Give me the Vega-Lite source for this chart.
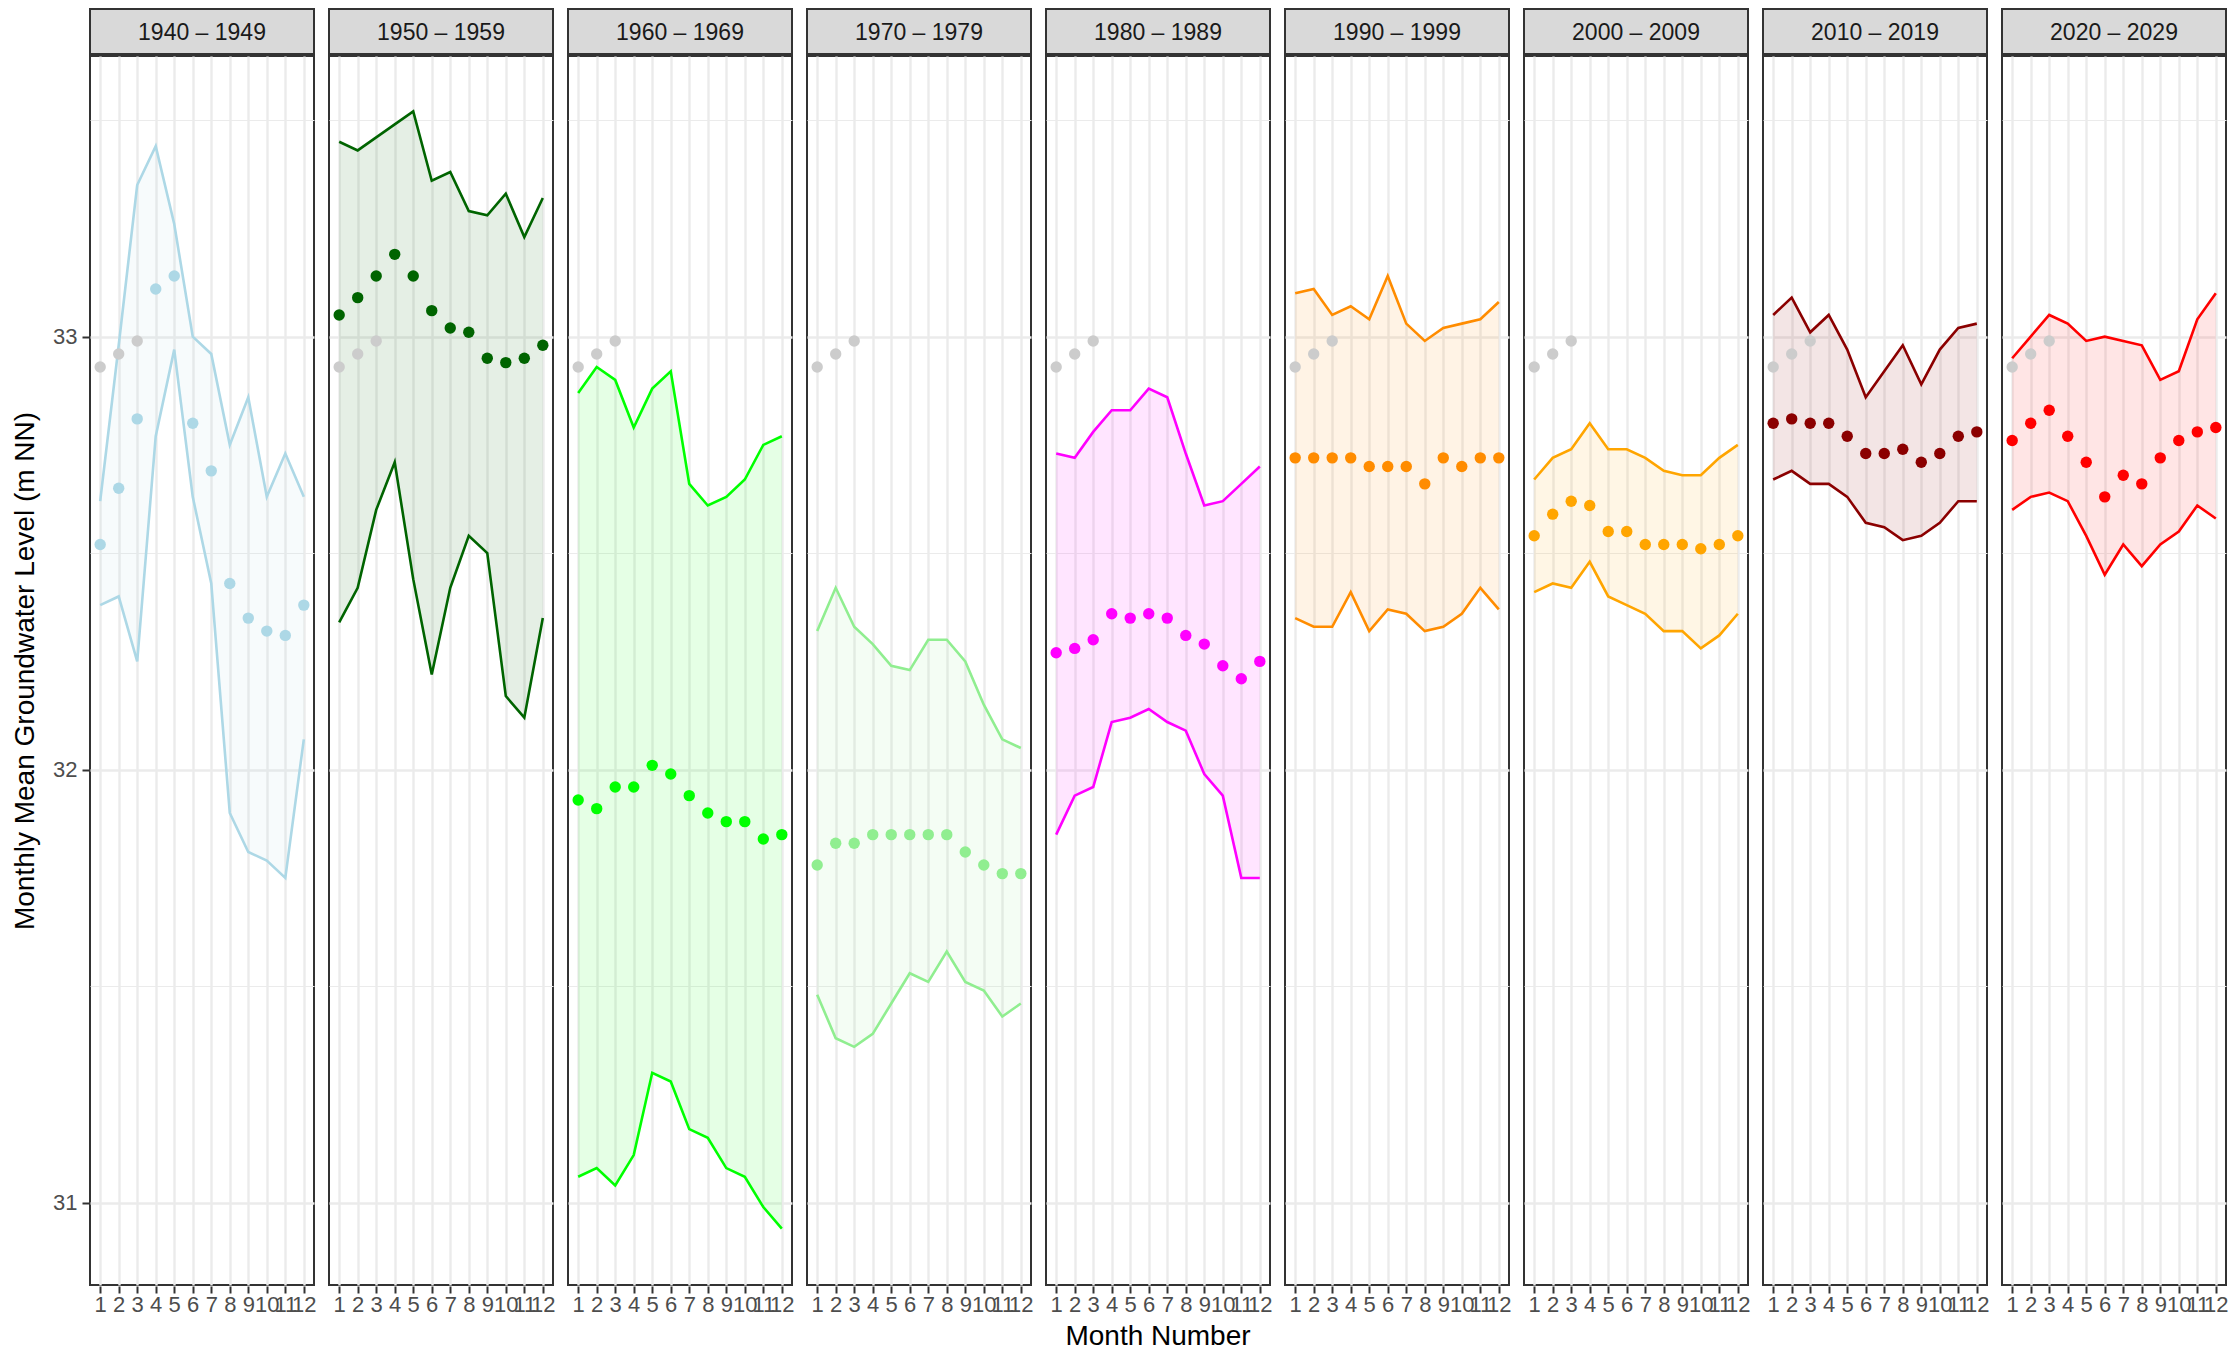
{
  "$schema": "https://vega.github.io/schema/vega-lite/v6.json",
  "padding": {"left": 11, "top": 8, "right": 6, "bottom": 2},
  "background": "white",
  "data": {"values": [
    {"decade": "1940 – 1949", "month": 1, "mean": 32.52, "min": 32.38, "max": 32.62, "current": 32.93},
    {"decade": "1940 – 1949", "month": 2, "mean": 32.65, "min": 32.40, "max": 32.98, "current": 32.96},
    {"decade": "1940 – 1949", "month": 3, "mean": 32.81, "min": 32.25, "max": 33.35, "current": 32.99},
    {"decade": "1940 – 1949", "month": 4, "mean": 33.11, "min": 32.77, "max": 33.44},
    {"decade": "1940 – 1949", "month": 5, "mean": 33.14, "min": 32.97, "max": 33.26},
    {"decade": "1940 – 1949", "month": 6, "mean": 32.80, "min": 32.63, "max": 33.00},
    {"decade": "1940 – 1949", "month": 7, "mean": 32.69, "min": 32.43, "max": 32.96},
    {"decade": "1940 – 1949", "month": 8, "mean": 32.43, "min": 31.90, "max": 32.75},
    {"decade": "1940 – 1949", "month": 9, "mean": 32.35, "min": 31.81, "max": 32.86},
    {"decade": "1940 – 1949", "month": 10, "mean": 32.32, "min": 31.79, "max": 32.63},
    {"decade": "1940 – 1949", "month": 11, "mean": 32.31, "min": 31.75, "max": 32.73},
    {"decade": "1940 – 1949", "month": 12, "mean": 32.38, "min": 32.07, "max": 32.63},
    {"decade": "1950 – 1959", "month": 1, "mean": 33.05, "min": 32.34, "max": 33.45, "current": 32.93},
    {"decade": "1950 – 1959", "month": 2, "mean": 33.09, "min": 32.42, "max": 33.43, "current": 32.96},
    {"decade": "1950 – 1959", "month": 3, "mean": 33.14, "min": 32.60, "max": 33.46, "current": 32.99},
    {"decade": "1950 – 1959", "month": 4, "mean": 33.19, "min": 32.71, "max": 33.49},
    {"decade": "1950 – 1959", "month": 5, "mean": 33.14, "min": 32.44, "max": 33.52},
    {"decade": "1950 – 1959", "month": 6, "mean": 33.06, "min": 32.22, "max": 33.36},
    {"decade": "1950 – 1959", "month": 7, "mean": 33.02, "min": 32.42, "max": 33.38},
    {"decade": "1950 – 1959", "month": 8, "mean": 33.01, "min": 32.54, "max": 33.29},
    {"decade": "1950 – 1959", "month": 9, "mean": 32.95, "min": 32.50, "max": 33.28},
    {"decade": "1950 – 1959", "month": 10, "mean": 32.94, "min": 32.17, "max": 33.33},
    {"decade": "1950 – 1959", "month": 11, "mean": 32.95, "min": 32.12, "max": 33.23},
    {"decade": "1950 – 1959", "month": 12, "mean": 32.98, "min": 32.35, "max": 33.32},
    {"decade": "1960 – 1969", "month": 1, "mean": 31.93, "min": 31.06, "max": 32.87, "current": 32.93},
    {"decade": "1960 – 1969", "month": 2, "mean": 31.91, "min": 31.08, "max": 32.93, "current": 32.96},
    {"decade": "1960 – 1969", "month": 3, "mean": 31.96, "min": 31.04, "max": 32.90, "current": 32.99},
    {"decade": "1960 – 1969", "month": 4, "mean": 31.96, "min": 31.11, "max": 32.79},
    {"decade": "1960 – 1969", "month": 5, "mean": 32.01, "min": 31.30, "max": 32.88},
    {"decade": "1960 – 1969", "month": 6, "mean": 31.99, "min": 31.28, "max": 32.92},
    {"decade": "1960 – 1969", "month": 7, "mean": 31.94, "min": 31.17, "max": 32.66},
    {"decade": "1960 – 1969", "month": 8, "mean": 31.90, "min": 31.15, "max": 32.61},
    {"decade": "1960 – 1969", "month": 9, "mean": 31.88, "min": 31.08, "max": 32.63},
    {"decade": "1960 – 1969", "month": 10, "mean": 31.88, "min": 31.06, "max": 32.67},
    {"decade": "1960 – 1969", "month": 11, "mean": 31.84, "min": 30.99, "max": 32.75},
    {"decade": "1960 – 1969", "month": 12, "mean": 31.85, "min": 30.94, "max": 32.77},
    {"decade": "1970 – 1979", "month": 1, "mean": 31.78, "min": 31.48, "max": 32.32, "current": 32.93},
    {"decade": "1970 – 1979", "month": 2, "mean": 31.83, "min": 31.38, "max": 32.42, "current": 32.96},
    {"decade": "1970 – 1979", "month": 3, "mean": 31.83, "min": 31.36, "max": 32.33, "current": 32.99},
    {"decade": "1970 – 1979", "month": 4, "mean": 31.85, "min": 31.39, "max": 32.29},
    {"decade": "1970 – 1979", "month": 5, "mean": 31.85, "min": 31.46, "max": 32.24},
    {"decade": "1970 – 1979", "month": 6, "mean": 31.85, "min": 31.53, "max": 32.23},
    {"decade": "1970 – 1979", "month": 7, "mean": 31.85, "min": 31.51, "max": 32.30},
    {"decade": "1970 – 1979", "month": 8, "mean": 31.85, "min": 31.58, "max": 32.30},
    {"decade": "1970 – 1979", "month": 9, "mean": 31.81, "min": 31.51, "max": 32.25},
    {"decade": "1970 – 1979", "month": 10, "mean": 31.78, "min": 31.49, "max": 32.15},
    {"decade": "1970 – 1979", "month": 11, "mean": 31.76, "min": 31.43, "max": 32.07},
    {"decade": "1970 – 1979", "month": 12, "mean": 31.76, "min": 31.46, "max": 32.05},
    {"decade": "1980 – 1989", "month": 1, "mean": 32.27, "min": 31.85, "max": 32.73, "current": 32.93},
    {"decade": "1980 – 1989", "month": 2, "mean": 32.28, "min": 31.94, "max": 32.72, "current": 32.96},
    {"decade": "1980 – 1989", "month": 3, "mean": 32.30, "min": 31.96, "max": 32.78, "current": 32.99},
    {"decade": "1980 – 1989", "month": 4, "mean": 32.36, "min": 32.11, "max": 32.83},
    {"decade": "1980 – 1989", "month": 5, "mean": 32.35, "min": 32.12, "max": 32.83},
    {"decade": "1980 – 1989", "month": 6, "mean": 32.36, "min": 32.14, "max": 32.88},
    {"decade": "1980 – 1989", "month": 7, "mean": 32.35, "min": 32.11, "max": 32.86},
    {"decade": "1980 – 1989", "month": 8, "mean": 32.31, "min": 32.09, "max": 32.73},
    {"decade": "1980 – 1989", "month": 9, "mean": 32.29, "min": 31.99, "max": 32.61},
    {"decade": "1980 – 1989", "month": 10, "mean": 32.24, "min": 31.94, "max": 32.62},
    {"decade": "1980 – 1989", "month": 11, "mean": 32.21, "min": 31.75, "max": 32.66},
    {"decade": "1980 – 1989", "month": 12, "mean": 32.25, "min": 31.75, "max": 32.70},
    {"decade": "1990 – 1999", "month": 1, "mean": 32.72, "min": 32.35, "max": 33.10, "current": 32.93},
    {"decade": "1990 – 1999", "month": 2, "mean": 32.72, "min": 32.33, "max": 33.11, "current": 32.96},
    {"decade": "1990 – 1999", "month": 3, "mean": 32.72, "min": 32.33, "max": 33.05, "current": 32.99},
    {"decade": "1990 – 1999", "month": 4, "mean": 32.72, "min": 32.41, "max": 33.07},
    {"decade": "1990 – 1999", "month": 5, "mean": 32.70, "min": 32.32, "max": 33.04},
    {"decade": "1990 – 1999", "month": 6, "mean": 32.70, "min": 32.37, "max": 33.14},
    {"decade": "1990 – 1999", "month": 7, "mean": 32.70, "min": 32.36, "max": 33.03},
    {"decade": "1990 – 1999", "month": 8, "mean": 32.66, "min": 32.32, "max": 32.99},
    {"decade": "1990 – 1999", "month": 9, "mean": 32.72, "min": 32.33, "max": 33.02},
    {"decade": "1990 – 1999", "month": 10, "mean": 32.70, "min": 32.36, "max": 33.03},
    {"decade": "1990 – 1999", "month": 11, "mean": 32.72, "min": 32.42, "max": 33.04},
    {"decade": "1990 – 1999", "month": 12, "mean": 32.72, "min": 32.37, "max": 33.08},
    {"decade": "2000 – 2009", "month": 1, "mean": 32.54, "min": 32.41, "max": 32.67, "current": 32.93},
    {"decade": "2000 – 2009", "month": 2, "mean": 32.59, "min": 32.43, "max": 32.72, "current": 32.96},
    {"decade": "2000 – 2009", "month": 3, "mean": 32.62, "min": 32.42, "max": 32.74, "current": 32.99},
    {"decade": "2000 – 2009", "month": 4, "mean": 32.61, "min": 32.48, "max": 32.80},
    {"decade": "2000 – 2009", "month": 5, "mean": 32.55, "min": 32.40, "max": 32.74},
    {"decade": "2000 – 2009", "month": 6, "mean": 32.55, "min": 32.38, "max": 32.74},
    {"decade": "2000 – 2009", "month": 7, "mean": 32.52, "min": 32.36, "max": 32.72},
    {"decade": "2000 – 2009", "month": 8, "mean": 32.52, "min": 32.32, "max": 32.69},
    {"decade": "2000 – 2009", "month": 9, "mean": 32.52, "min": 32.32, "max": 32.68},
    {"decade": "2000 – 2009", "month": 10, "mean": 32.51, "min": 32.28, "max": 32.68},
    {"decade": "2000 – 2009", "month": 11, "mean": 32.52, "min": 32.31, "max": 32.72},
    {"decade": "2000 – 2009", "month": 12, "mean": 32.54, "min": 32.36, "max": 32.75},
    {"decade": "2010 – 2019", "month": 1, "mean": 32.80, "min": 32.67, "max": 33.05, "current": 32.93},
    {"decade": "2010 – 2019", "month": 2, "mean": 32.81, "min": 32.69, "max": 33.09, "current": 32.96},
    {"decade": "2010 – 2019", "month": 3, "mean": 32.80, "min": 32.66, "max": 33.01, "current": 32.99},
    {"decade": "2010 – 2019", "month": 4, "mean": 32.80, "min": 32.66, "max": 33.05},
    {"decade": "2010 – 2019", "month": 5, "mean": 32.77, "min": 32.63, "max": 32.97},
    {"decade": "2010 – 2019", "month": 6, "mean": 32.73, "min": 32.57, "max": 32.86},
    {"decade": "2010 – 2019", "month": 7, "mean": 32.73, "min": 32.56, "max": 32.92},
    {"decade": "2010 – 2019", "month": 8, "mean": 32.74, "min": 32.53, "max": 32.98},
    {"decade": "2010 – 2019", "month": 9, "mean": 32.71, "min": 32.54, "max": 32.89},
    {"decade": "2010 – 2019", "month": 10, "mean": 32.73, "min": 32.57, "max": 32.97},
    {"decade": "2010 – 2019", "month": 11, "mean": 32.77, "min": 32.62, "max": 33.02},
    {"decade": "2010 – 2019", "month": 12, "mean": 32.78, "min": 32.62, "max": 33.03},
    {"decade": "2020 – 2029", "month": 1, "mean": 32.76, "min": 32.60, "max": 32.95, "current": 32.93},
    {"decade": "2020 – 2029", "month": 2, "mean": 32.80, "min": 32.63, "max": 33.00, "current": 32.96},
    {"decade": "2020 – 2029", "month": 3, "mean": 32.83, "min": 32.64, "max": 33.05, "current": 32.99},
    {"decade": "2020 – 2029", "month": 4, "mean": 32.77, "min": 32.62, "max": 33.03},
    {"decade": "2020 – 2029", "month": 5, "mean": 32.71, "min": 32.54, "max": 32.99},
    {"decade": "2020 – 2029", "month": 6, "mean": 32.63, "min": 32.45, "max": 33.00},
    {"decade": "2020 – 2029", "month": 7, "mean": 32.68, "min": 32.52, "max": 32.99},
    {"decade": "2020 – 2029", "month": 8, "mean": 32.66, "min": 32.47, "max": 32.98},
    {"decade": "2020 – 2029", "month": 9, "mean": 32.72, "min": 32.52, "max": 32.90},
    {"decade": "2020 – 2029", "month": 10, "mean": 32.76, "min": 32.55, "max": 32.92},
    {"decade": "2020 – 2029", "month": 11, "mean": 32.78, "min": 32.61, "max": 33.04},
    {"decade": "2020 – 2029", "month": 12, "mean": 32.79, "min": 32.58, "max": 33.10}
  ]},
  "spacing": 0,
  "vconcat": [
    {
      "facet": {"column": {"field": "decade", "type": "nominal", "header": {"title": null, "labels": false}}},
      "spacing": 13,
      "spec": {
        "width": 224,
        "height": 45,
        "view": {"fill": "#D9D9D9", "stroke": "#333333", "strokeWidth": 2},
        "transform": [{"filter": "datum.month == 1"}],
        "mark": {"type": "text", "fontSize": 23, "color": "#1A1A1A", "font": "Liberation Sans", "align": "center", "baseline": "middle", "dy": 1},
        "encoding": {"text": {"field": "decade", "type": "nominal"}}
      }
    },
    {
      "facet": {"column": {"field": "decade", "type": "nominal", "header": {"title": "Month Number", "titleOrient": "bottom", "labels": false, "titleFontSize": 28, "titleFont": "Liberation Sans", "titleColor": "black", "titleFontWeight": "normal", "titlePadding": -2}}},
      "spacing": 13,
      "spec": {
        "width": 224,
        "height": 1229,
        "encoding": {
          "x": {"field": "month", "type": "quantitative", "title": null,
                "scale": {"domain": [0.45, 12.55], "nice": false, "zero": false},
                "axis": {"values": [1,2,3,4,5,6,7,8,9,10,11,12], "format": "d", "labelOverlap": false, "labelFlush": false, "labelPadding": 1, "gridWidth": 2.4}}
        },
        "layer": [
          {
            "mark": {"type": "area", "opacity": 0.1},
            "encoding": {
              "y": {"field": "min", "type": "quantitative", "title": "Monthly Mean Groundwater Level (m NN)",
                    "scale": {"domain": [30.81, 33.648], "nice": false, "zero": false},
                    "axis": {"values": [31, 31.5, 32, 32.5, 33, 33.5],
                             "labelExpr": "datum.value % 1 === 0 ? format(datum.value, '.0f') : ''",
                             "tickOpacity": {"condition": {"test": "datum.value % 1 !== 0", "value": 0}, "value": 1},
                             "gridWidth": {"condition": {"test": "datum.value % 1 !== 0", "value": 1.2}, "value": 2.4},
                             "labelPadding": 5, "titlePadding": 13}},
              "y2": {"field": "max"},
              "color": {"field": "decade", "type": "nominal", "legend": null,
                        "scale": {"domain": ["1940 – 1949", "1950 – 1959", "1960 – 1969", "1970 – 1979", "1980 – 1989", "1990 – 1999", "2000 – 2009", "2010 – 2019", "2020 – 2029"],
                                  "range": ["#ADD8E6", "#006400", "#00FF00", "#90EE90", "#FF00FF", "#FF8C00", "#FFA500", "#8B0000", "#FF0000"]}}
            }
          },
          {
            "mark": {"type": "line", "strokeWidth": 2.6},
            "encoding": {
              "y": {"field": "max", "type": "quantitative", "title": "Monthly Mean Groundwater Level (m NN)"},
              "color": {"field": "decade", "type": "nominal", "legend": null}
            }
          },
          {
            "mark": {"type": "line", "strokeWidth": 2.6},
            "encoding": {
              "y": {"field": "min", "type": "quantitative", "title": "Monthly Mean Groundwater Level (m NN)"},
              "color": {"field": "decade", "type": "nominal", "legend": null}
            }
          },
          {
            "mark": {"type": "point", "filled": true, "size": 130, "color": "#CCCCCC", "opacity": 1},
            "encoding": {
              "y": {"field": "current", "type": "quantitative", "title": "Monthly Mean Groundwater Level (m NN)"}
            }
          },
          {
            "mark": {"type": "point", "filled": true, "size": 130, "opacity": 1},
            "encoding": {
              "y": {"field": "mean", "type": "quantitative", "title": "Monthly Mean Groundwater Level (m NN)"},
              "color": {"field": "decade", "type": "nominal", "legend": null}
            }
          }
        ]
      }
    }
  ],
  "config": {
    "font": "Liberation Sans",
    "view": {"stroke": "#333333", "strokeWidth": 2},
    "axis": {
      "gridColor": "#EBEBEB",
      "tickColor": "#333333",
      "tickSize": 7,
      "tickWidth": 2,
      "domain": false,
      "labelFont": "Liberation Sans",
      "labelFontSize": 22,
      "labelColor": "#4D4D4D",
      "titleFont": "Liberation Sans",
      "titleFontSize": 28,
      "titleFontWeight": "normal",
      "titleColor": "black"
    }
  }
}
